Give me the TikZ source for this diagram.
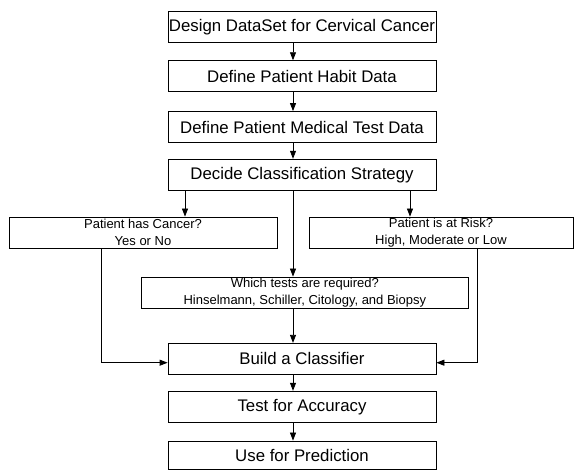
\documentclass[tikz,border=0pt]{standalone}
\usepackage{fontspec}
\setmainfont{Liberation Sans}
\usetikzlibrary{arrows.meta}
\begin{document}
\begin{tikzpicture}[x=1pt,y=-1pt,
  mainbox/.style={draw, line width=0.8pt, rectangle, inner sep=0pt, minimum width=268pt, minimum height=31pt, font=\fontsize{16.8}{19}\selectfont},
  smallbox/.style={draw, line width=0.8pt, rectangle, inner sep=0pt, minimum height=31pt, align=center, font=\fontsize{13}{16.5}\selectfont},
  arr/.style={line width=0.8pt, -{Triangle[length=8pt,width=6pt]}}]
\useasboundingbox (0,0) rectangle (574,470);
\node[mainbox] (b1) at (302,27.2) {Design DataSet for Cervical Cancer};
\node[mainbox] (b2) at (302,76.2) {Define Patient Habit Data};
\node[mainbox] (b3) at (302,127) {Define Patient Medical Test Data};
\node[mainbox] (b4) at (302,174.7) {Decide Classification Strategy};
\node[smallbox, minimum width=268pt] (lb) at (143,232.5) {Patient has Cancer?\\Yes or No};
\node[smallbox, minimum width=264pt] (rb) at (441,232.5) {Patient is at Risk?\\High, Moderate or Low};
\node[smallbox, minimum width=326.3pt] (mb) at (304.85,292.5) {Which tests are required?\\Hinselmann, Schiller, Citology, and Biopsy};
\node[mainbox] (build) at (302,358.8) {Build a Classifier};
\node[mainbox] (test) at (302,406.7) {Test for Accuracy};
\node[mainbox, minimum height=28.5pt] (use) at (302,455.25) {Use for Prediction};
\coordinate (cx) at (293,0);
\coordinate (lx) at (185,0);
\coordinate (rx) at (410,0);
\coordinate (llx) at (101,0);
\coordinate (rrx) at (477,0);
\coordinate (jy) at (0,362.7);
\draw[arr] (b1.south -| cx) -- (b2.north -| cx);
\draw[arr] (b2.south -| cx) -- (b3.north -| cx);
\draw[arr] (b3.south -| cx) -- (b4.north -| cx);
\draw[arr] (b4.south -| lx) -- (lb.north -| lx);
\draw[arr] (b4.south -| rx) -- (rb.north -| rx);
\draw[arr] (b4.south -| cx) -- (mb.north -| cx);
\draw[arr] (mb.south -| cx) -- (build.north -| cx);
\draw[arr] (lb.south -| llx) |- (build.west |- jy);
\draw[arr] (rb.south -| rrx) |- (build.east |- jy);
\draw[arr] (build.south -| cx) -- (test.north -| cx);
\draw[arr] (test.south -| cx) -- (use.north -| cx);
\end{tikzpicture}
\end{document}
